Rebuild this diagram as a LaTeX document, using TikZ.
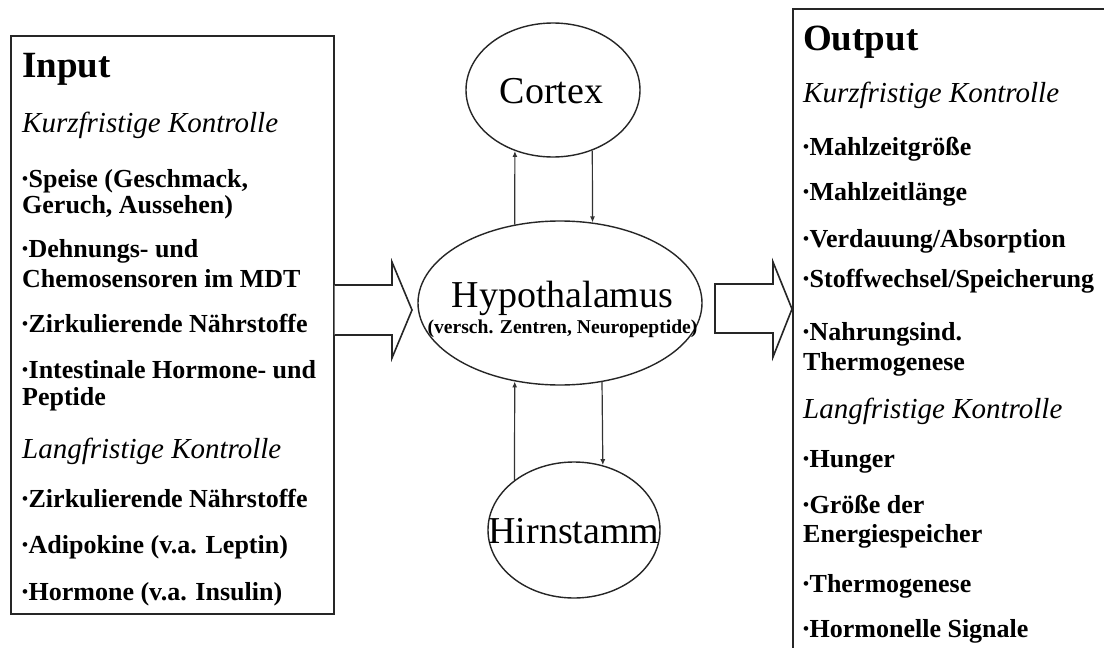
\documentclass[tikz,border=0pt]{standalone}
\usepackage{fontspec}
\setmainfont{Liberation Serif}
\usetikzlibrary{shapes.geometric,arrows.meta}
\newcommand{\bul}{\raisebox{2.5pt}{\fontsize{17}{17}\selectfont •}\hspace{0.5pt}}
\begin{document}
\begin{tikzpicture}[x=1pt,y=-1pt,
  frame/.style={draw=black!85, line width=1.6pt, rectangle, inner sep=0pt, anchor=north west},
  oval/.style={ellipse, draw=black!85, line width=1.4pt, inner sep=0pt},
  head/.style={anchor=base west, inner sep=0pt, font=\fontsize{37}{40}\selectfont\bfseries},
  sect/.style={anchor=base west, inner sep=0pt, font=\fontsize{29}{32}\selectfont\itshape},
  item/.style={anchor=base west, inner sep=0pt, font=\fontsize{26}{28}\selectfont\bfseries},
  big/.style={anchor=base, inner sep=0pt, font=\fontsize{38}{40}\selectfont},
  small/.style={anchor=base, inner sep=0pt, font=\fontsize{19.6}{21}\selectfont\bfseries},
  link/.style={draw=black!80, line width=1.2pt, -{Latex[length=6pt,width=5pt]}},
  block/.style={draw=black!85, line width=1.6pt, fill=white, line join=miter}
]
\useasboundingbox (0,0) rectangle (1104,648);
\fill[white] (0,0) rectangle (1104,648);
\clip (0,0) rectangle (1104,648);

% boxes
\node[frame, minimum width=323pt, minimum height=578pt] (inbox) at (10,35) {};
\node[frame, minimum width=330pt, minimum height=660pt] (outbox) at (792,8) {};

% ellipses
\node[oval, minimum width=174pt, minimum height=134pt] (cortex) at (553,90) {};
\node[oval, minimum width=284pt, minimum height=164pt] (hypo) at (560,303) {};
\node[oval, minimum width=172pt, minimum height=136pt] (hirn) at (574,530) {};

\node[big] (tcortex) at (551.5,103) {Cortex};
\node[big] (thypo) at (562.5,307) {Hypothalamus};
\node[small] (tsub) at (562.5,333) {(versch. Zentren, Neuropeptide)};
\node[big] (thirn) at (574,543) {Hirnstamm};

% connectors
\draw[link] (hypo.120) -- (cortex.238);
\draw[link] (cortex.303) -- (hypo.68);
\draw[link] (hirn.140) -- (hypo.240);
\draw[link] (hypo.298) -- (hirn.66);

% block arrows
\draw[block] (inbox.east |- 0,285) -- (392,285) -- (392,262) -- (412,310) -- (392,358) -- (392,335) -- (inbox.east |- 0,335);
\draw[block] (715,284) -- (773,284) -- (773,262) -- (outbox.west |- 0,309) -- (773,357) -- (773,333) -- (715,333) -- cycle;

% input text
\node[head] (ih) at (22,77) {Input};
\node[sect] (i1) at (22,132) {Kurzfristige Kontrolle};
\node[item] (i2) at (22,187) {\bul Speise (Geschmack,};
\node[item] (i3) at (22,213) {Geruch, Aussehen)};
\node[item] (i4) at (22,257) {\bul Dehnungs- und};
\node[item] (i5) at (22,287) {Chemosensoren im MDT};
\node[item] (i6) at (22,332) {\bul Zirkulierende Nährstoffe};
\node[item] (i7) at (22,378) {\bul Intestinale Hormone- und};
\node[item] (i8) at (22,405) {Peptide};
\node[sect] (i9) at (22,458) {Langfristige Kontrolle};
\node[item] (i10) at (22,507) {\bul Zirkulierende Nährstoffe};
\node[item] (i11) at (22,553) {\bul Adipokine (v.a. Leptin)};
\node[item] (i12) at (22,600) {\bul Hormone (v.a. Insulin)};

% output text
\node[head] (oh) at (803,50) {Output};
\node[sect] (o1) at (803,102) {Kurzfristige Kontrolle};
\node[item] (o2) at (803,155) {\bul Mahlzeitgröße};
\node[item] (o3) at (803,200) {\bul Mahlzeitlänge};
\node[item] (o4) at (803,247) {\bul Verdauung/Absorption};
\node[item] (o5) at (803,287) {\bul Stoffwechsel/Speicherung};
\node[item] (o6) at (803,340) {\bul Nahrungsind.};
\node[item] (o7) at (803,370) {Thermogenese};
\node[sect] (o8) at (803,418) {Langfristige Kontrolle};
\node[item] (o9) at (803,467) {\bul Hunger};
\node[item] (o10) at (803,513) {\bul Größe der};
\node[item] (o11) at (803,542) {Energiespeicher};
\node[item] (o12) at (803,592) {\bul Thermogenese};
\node[item] (o13) at (803,637) {\bul Hormonelle Signale};
\end{tikzpicture}
\end{document}
